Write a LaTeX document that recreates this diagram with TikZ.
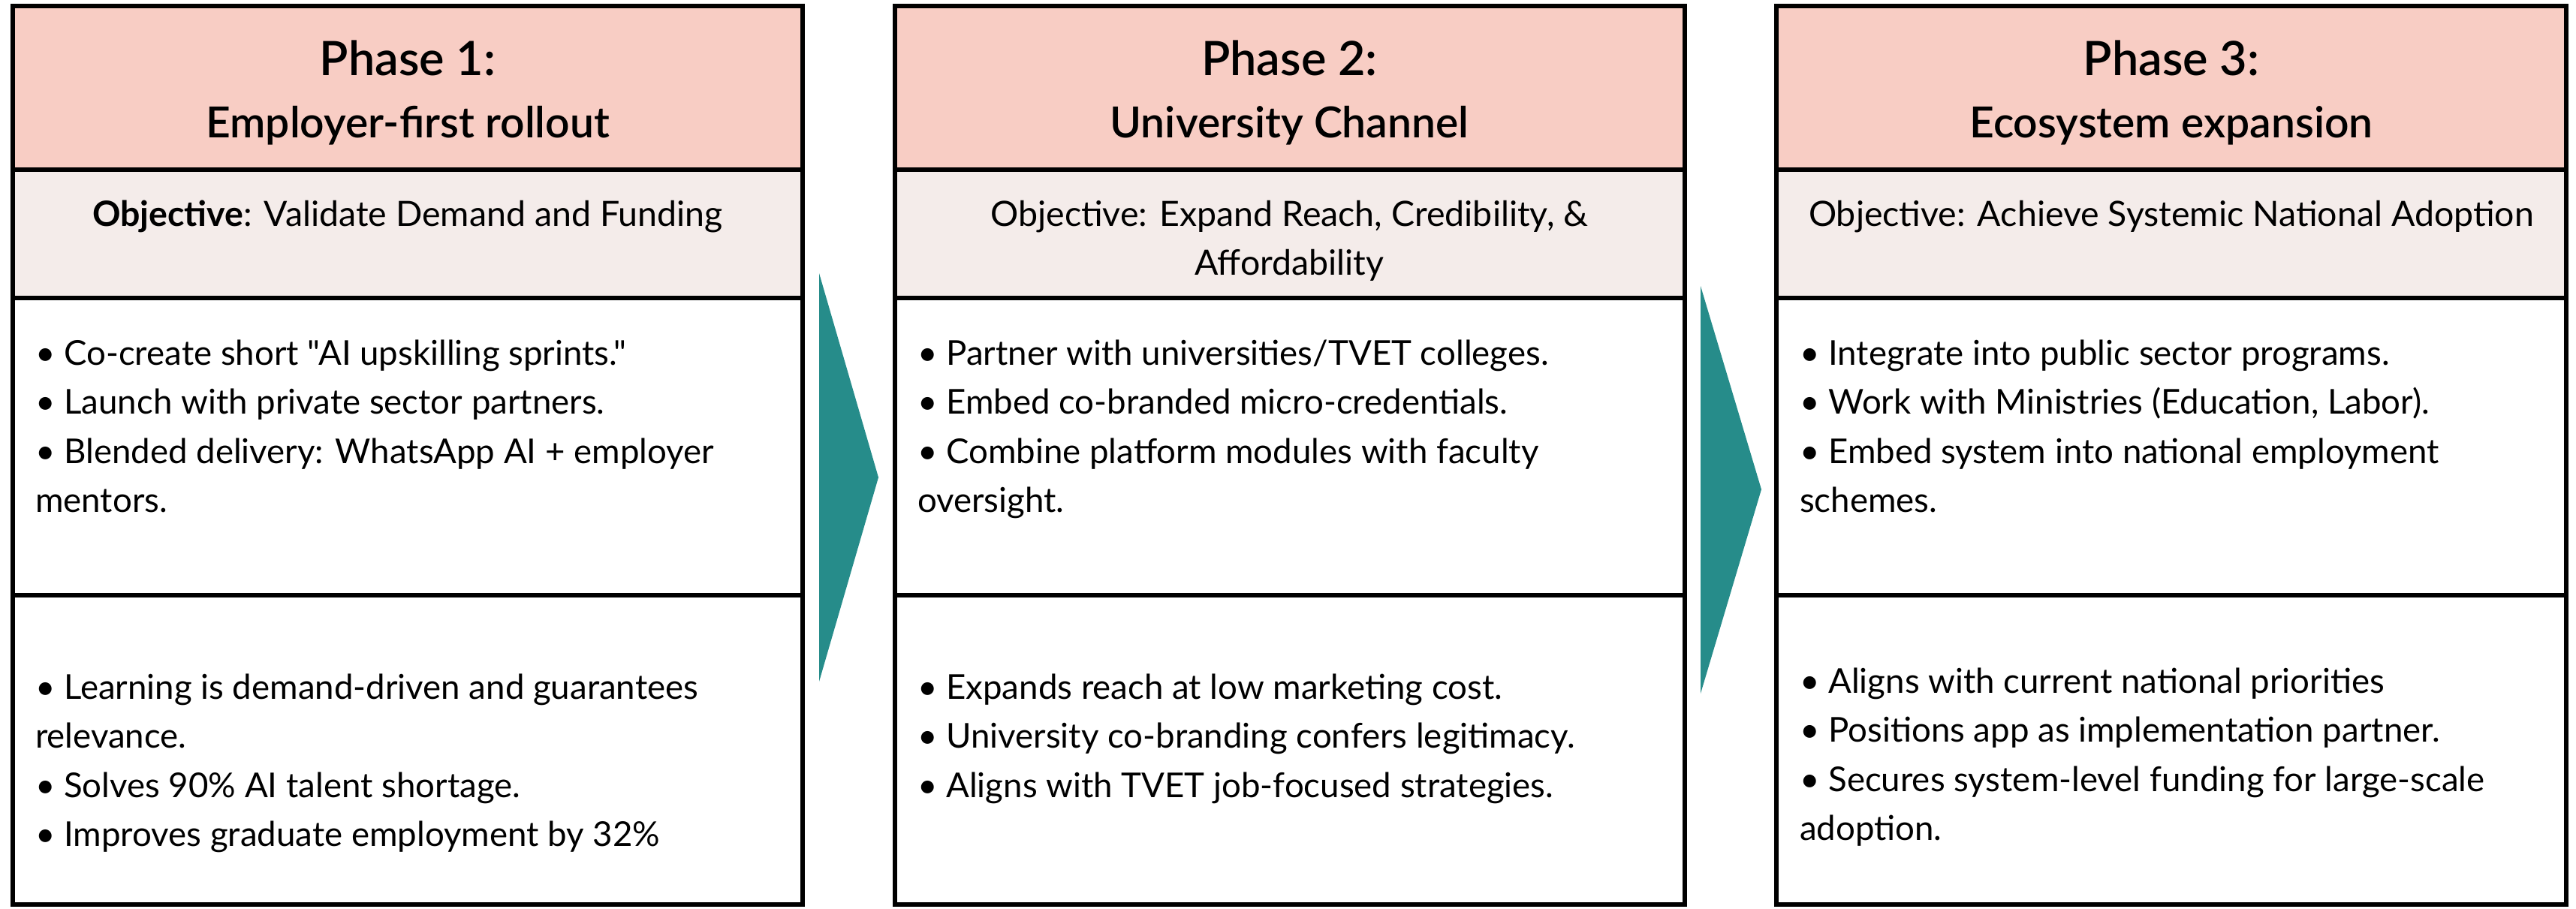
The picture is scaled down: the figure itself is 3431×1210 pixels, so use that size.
\documentclass[tikz,border=0pt]{standalone}
\usepackage{fontspec}
% plain family: straight quotes stay straight
\newfontfamily\latofont{Lato}
\IfFontExistsTF{Lato Semibold}
  {\newfontfamily\latosemi{Lato Semibold}}
  {\newcommand\latosemi{\latofont\bfseries}}
\definecolor{headpink}{HTML}{F8CDC4}
\definecolor{objfill}{HTML}{F4ECEA}
\definecolor{arrowteal}{HTML}{268C8A}
\tikzset{
  rule/.style={draw=black, line width=6pt},
  phasetitle/.style={font=\latosemi\fontsize{63}{70}\selectfont, anchor=base, inner sep=0pt},
  phasesub/.style={font=\latosemi\fontsize{57}{60}\selectfont, anchor=base, inner sep=0pt},
  objtext/.style={font=\latofont\fontsize{46.5}{65.5}\selectfont, align=center, anchor=north, inner sep=0pt},
  bullets/.style={font=\latofont\fontsize{45.6}{65.5}\selectfont, align=left, anchor=north west, inner sep=0pt},
  chevron/.style={fill=arrowteal, draw=none},
}
\begin{document}
\begin{tikzpicture}[x=1pt, y=-1pt]
\useasboundingbox (0,0) rectangle (3431,1210);

% column frames: header, objective band, two text cells
\foreach \L in {17,1191.5,2366}{
  \fill[headpink] (\L,8) rectangle ++(1052,218);
  \fill[objfill] (\L,226) rectangle ++(1052,171);
  \draw[rule] (\L,226) -- ++(1052,0);
  \draw[rule] (\L,397) -- ++(1052,0);
  \draw[rule] (\L,793) -- ++(1052,0);
  \draw[rule] (\L,8) rectangle ++(1052,1197);
}

% chevrons between the columns
\fill[chevron] (1091,364) -- (1170,636) -- (1091,908) -- cycle;
\fill[chevron] (2265,381) -- (2346,652) -- (2265,924) -- cycle;

% Phase 1
\node[phasetitle] (p1title) at (543,100) {Phase 1:};
\node[phasesub] (p1sub) at (543,183) {Employer-first rollout};
\node[objtext] (p1obj) at (543,255) {\strut\textbf{Objective}: Validate Demand and Funding};
\node[bullets] (p1act) at (47,440) {\strut• Co-create short "AI upskilling sprints."\\
\strut• Launch with private sector partners.\\
\strut• Blended delivery: WhatsApp AI + employer\\
\strut mentors.};
\node[bullets] (p1out) at (47,885) {\strut• Learning is demand-driven and guarantees\\
\strut relevance.\\
\strut• Solves 90\% AI talent shortage.\\
\strut• Improves graduate employment by 32\%};

% Phase 2
\node[phasetitle] (p2title) at (1717.5,100) {Phase 2:};
\node[phasesub] (p2sub) at (1717.5,183) {University Channel};
\node[objtext] (p2obj) at (1717.5,255) {\strut Objective: Expand Reach, Credibility, \&\\
\strut Affordability};
\node[bullets] (p2act) at (1222,440) {\strut• Partner with universities/TVET colleges.\\
\strut• Embed co-branded micro-credentials.\\
\strut• Combine platform modules with faculty\\
\strut oversight.};
\node[bullets] (p2out) at (1222,885) {\strut• Expands reach at low marketing cost.\\
\strut• University co-branding confers legitimacy.\\
\strut• Aligns with TVET job-focused strategies.};

% Phase 3
\node[phasetitle] (p3title) at (2892,100) {Phase 3:};
\node[phasesub] (p3sub) at (2892,183) {Ecosystem expansion};
\node[objtext] (p3obj) at (2892,255) {\strut Objective: Achieve Systemic National Adoption};
\node[bullets] (p3act) at (2397,440) {\strut• Integrate into public sector programs.\\
\strut• Work with Ministries (Education, Labor).\\
\strut• Embed system into national employment\\
\strut schemes.};
\node[bullets] (p3out) at (2397,877) {\strut• Aligns with current national priorities\\
\strut• Positions app as implementation partner.\\
\strut• Secures system-level funding for large-scale\\
\strut adoption.};
\end{tikzpicture}
\end{document}
